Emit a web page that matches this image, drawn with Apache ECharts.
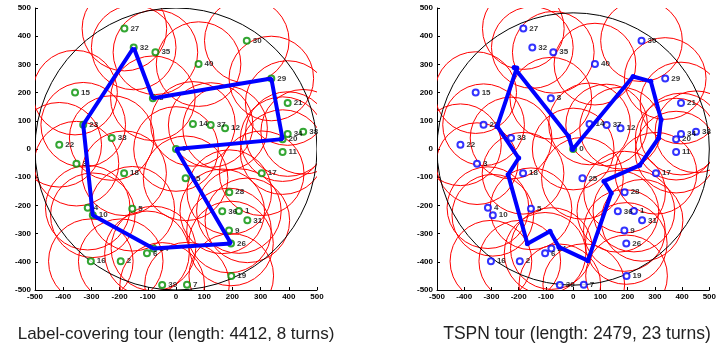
<!DOCTYPE html>
<html>
<head>
<meta charset="utf-8">
<script src="https://cdn.jsdelivr.net/npm/echarts@6/dist/echarts.min.js"></script>
<style>
  html, body { margin: 0; padding: 0; background: #fff; }
  #chart { width: 719px; height: 350px; }
</style>
</head>
<body>
<div id="chart"></div>
<script>
// point ids and coordinates
var pointIds = [0, 1, 2, 3, 4, 5, 6, 7, 8, 9, 10, 11, 12, 14, 15, 16, 17, 18, 19, 20,
  21, 22, 23, 24, 25, 26, 27, 28, 29, 30, 31, 32, 33, 34, 35, 36, 37, 38, 39, 40];
var pointX = [0, 223, -196, -353, -313, -155, -103, 39, -82, 188, -295, 378, 174, 60, -358, -302, 304, -184, 196, 378,
  396, -414, -329, -80, 34, 195, -183, 189, 338, 251, 253, -150, -228, 396, -73, 164, 123, 451, -49, 80];
var pointY = [0, -220, -398, -52, -208, -212, -370, -481, 180, -289, -235, -11, 74, 89, 200, -398, -86, -86, -450, 35,
  163, 15, 86, -353, -104, -335, 427, -153, 250, 384, -253, 360, 39, 53, 343, -221, 85, 61, -482, 301];
var diskRadius = 150;
var regionRadius = 500;

// label-covering tour, by point id
var coverTour = [32, 8, 29, 20, 0, 26, 24, 10, 23, 32];

// TSPN tour vertices
var tspnX = [-279, -200, -239, -168, -85, -52, 54, 140, 113, 244, 314, 323, 285, 220, -2, -17, -217, -207, -279];
var tspnY = [80, -32, -91, -336, -292, -348, -396, -156, -114, -58, 39, 104, 240, 257, -2, 45, 289, 287, 80];

var axisTicks = [-500, 500, 100];
var captions = ['Label-covering tour (length: 4412, 8 turns)', 'TSPN tour (length: 2479, 23 turns)'];

var font = 'Liberation Sans, Arial, sans-serif';

function xy(id) {
  var i = pointIds.indexOf(id);
  return [pointX[i], pointY[i]];
}

function circleItem(color) {
  return function (params, api) {
    var c = api.coord([api.value(0), api.value(1)]);
    var r = api.size([api.value(2), api.value(2)])[0];
    return {
      type: 'circle',
      shape: { cx: c[0], cy: c[1], r: r },
      style: { fill: 'none', stroke: color, lineWidth: 1 },
      silent: true
    };
  };
}

var disks = pointIds.map(function (id, i) { return [pointX[i], pointY[i], diskRadius]; });

function makeAxis(idx, isX) {
  return {
    type: 'value',
    gridIndex: idx,
    min: axisTicks[0],
    max: axisTicks[1],
    interval: axisTicks[2],
    splitLine: { show: false },
    axisLine: { onZero: false, lineStyle: { color: '#000', width: 1 } },
    axisTick: { inside: true, length: 3, lineStyle: { color: '#000' } },
    axisLabel: {
      color: '#000', fontSize: 8, fontWeight: 'bold', fontFamily: font,
      margin: isX ? 3 : 4
    }
  };
}

var series = [];
[0, 1].forEach(function (g) {
  series.push({
    type: 'custom', xAxisIndex: g, yAxisIndex: g, clip: true, z: 1,
    renderItem: circleItem('#ff0000'), data: disks, silent: true
  });
  series.push({
    type: 'custom', xAxisIndex: g, yAxisIndex: g, clip: true, z: 1,
    renderItem: circleItem('#000000'), data: [[0, 0, regionRadius]], silent: true
  });
  series.push({
    type: 'scatter', xAxisIndex: g, yAxisIndex: g, z: 3,
    symbol: 'emptyCircle', symbolSize: 6,
    data: pointIds.map(function (id, i) {
      var col = (g === 0 || id === 0) ? '#009000' : '#0000ff';
      return {
        name: String(id), value: [pointX[i], pointY[i]],
        itemStyle: { color: col, borderColor: col, borderWidth: 1 }
      };
    }),
    label: {
      show: true, position: 'right', distance: 2,
      formatter: '{b}', color: '#000', fontSize: 8, fontWeight: 'bold', fontFamily: font
    },
    silent: true
  });
});

series.push({
  type: 'line', xAxisIndex: 0, yAxisIndex: 0, z: 4,
  data: coverTour.map(xy),
  showSymbol: false, smooth: false,
  lineStyle: { color: '#0000ff', width: 4 },
  silent: true
});
series.push({
  type: 'line', xAxisIndex: 1, yAxisIndex: 1, z: 4,
  data: tspnX.map(function (x, i) { return [x, tspnY[i]]; }),
  symbol: 'circle', symbolSize: 5, showSymbol: true, smooth: false,
  itemStyle: { color: '#0000ff' },
  lineStyle: { color: '#0000ff', width: 4 },
  silent: true
});

var chart = echarts.init(document.getElementById('chart'), null, { renderer: 'canvas' });
chart.setOption({
  animation: false,
  backgroundColor: '#fff',
  grid: [
    { left: 35, top: 8, width: 282, height: 282 },
    { left: 437, top: 8, width: 282, height: 282 }
  ],
  xAxis: [makeAxis(0, true), makeAxis(1, true)],
  yAxis: [makeAxis(0, false), makeAxis(1, false)],
  graphic: [
    { type: 'text', x: 176, y: 334, style: { text: captions[0], fill: '#222', font: '17px ' + font, textAlign: 'center', textVerticalAlign: 'middle' } },
    { type: 'text', x: 577, y: 334, style: { text: captions[1], fill: '#222', font: '17.5px ' + font, textAlign: 'center', textVerticalAlign: 'middle' } }
  ],
  series: series
});
</script>
</body>
</html>
